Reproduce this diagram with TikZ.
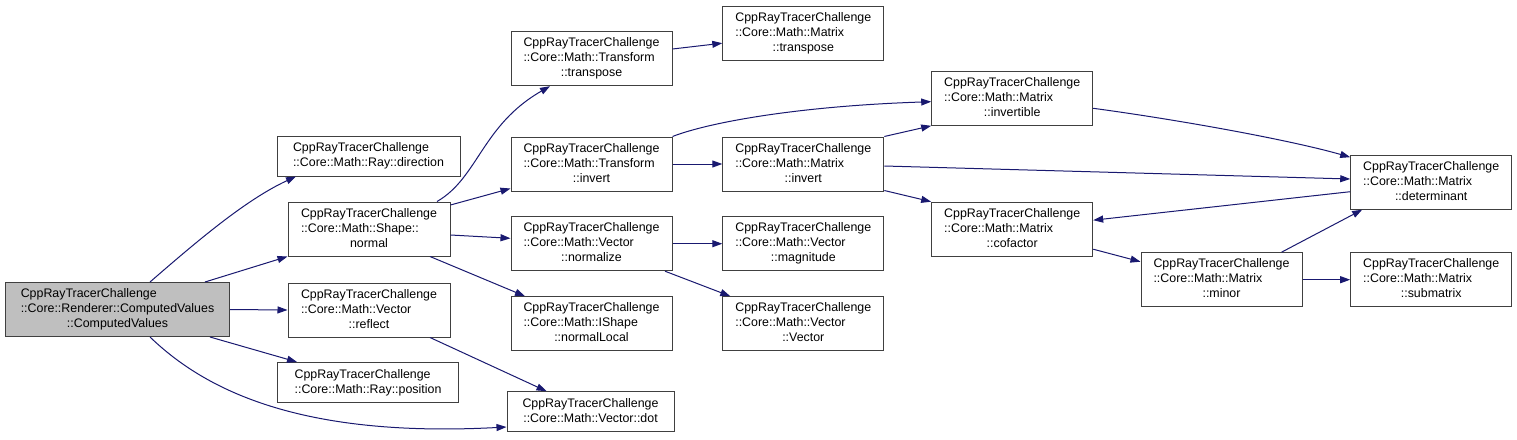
\documentclass[tikz,border=0pt]{standalone}
\usepackage{fontspec}
\setmainfont{Liberation Sans}
\usetikzlibrary{arrows.meta}
\definecolor{edgecol}{HTML}{191970}
\definecolor{boxborder}{HTML}{404040}
\definecolor{rootfill}{HTML}{BFBFBF}
\newcommand{\cbtwo}[2]{\begin{tabular}{@{}l@{}}#1\\\multicolumn{1}{@{}c@{}}{#2}\end{tabular}}
\newcommand{\cbthree}[3]{\begin{tabular}{@{}l@{}}#1\\#2\\\multicolumn{1}{@{}c@{}}{#3}\end{tabular}}
\tikzset{
  fnbox/.style={draw=boxborder, fill=white, line width=1pt, inner sep=0pt,
    minimum width=161pt, minimum height=54pt, font=\fontsize{12.4}{15}\selectfont},
  rootbox/.style={fnbox, fill=rootfill, minimum width=224pt},
  shortbox/.style={fnbox, minimum height=40pt},
  call/.style={draw=edgecol, line width=1pt, -{Triangle[length=10pt,width=7pt]}, edgecol},
}
\begin{document}
\begin{tikzpicture}[x=1pt,y=-1pt]
\fill[white] (0,0) rectangle (1517,439);
\useasboundingbox (0,0) rectangle (1517,439);

\node[rootbox] (cv) at (117.5,309.5) {\cbthree{CppRayTracerChallenge}{::Core::Renderer::ComputedValues}{::ComputedValues}};
\node[shortbox, minimum width=183pt] (dir) at (368.5,156) {\cbtwo{CppRayTracerChallenge}{::Core::Math::Ray::direction}};
\node[fnbox, minimum width=162pt] (normal) at (369,229) {\cbthree{CppRayTracerChallenge}{::Core::Math::Shape::}{normal}};
\node[fnbox, minimum width=162pt] (reflect) at (369,310) {\cbthree{CppRayTracerChallenge}{::Core::Math::Vector}{::reflect}};
\node[shortbox, minimum width=181pt] (pos) at (368,382.5) {\cbtwo{CppRayTracerChallenge}{::Core::Math::Ray::position}};

\node[fnbox] (ttrans) at (591.5,58.7) {\cbthree{CppRayTracerChallenge}{::Core::Math::Transform}{::transpose}};
\node[fnbox] (tinv) at (591.5,164) {\cbthree{CppRayTracerChallenge}{::Core::Math::Transform}{::invert}};
\node[fnbox] (normz) at (591.5,243.7) {\cbthree{CppRayTracerChallenge}{::Core::Math::Vector}{::normalize}};
\node[fnbox] (nloc) at (591.5,323.7) {\cbthree{CppRayTracerChallenge}{::Core::Math::IShape}{::normalLocal}};
\node[shortbox, minimum width=167pt] (dot) at (590.5,411.7) {\cbtwo{CppRayTracerChallenge}{::Core::Math::Vector::dot}};

\node[fnbox] (mtrans) at (803.3,33.2) {\cbthree{CppRayTracerChallenge}{::Core::Math::Matrix}{::transpose}};
\node[fnbox] (minv) at (803.3,164) {\cbthree{CppRayTracerChallenge}{::Core::Math::Matrix}{::invert}};
\node[fnbox] (mag) at (803.3,243.7) {\cbthree{CppRayTracerChallenge}{::Core::Math::Vector}{::magnitude}};
\node[fnbox] (vvec) at (803.3,323.7) {\cbthree{CppRayTracerChallenge}{::Core::Math::Vector}{::Vector}};

\node[fnbox] (invtb) at (1012.2,98.3) {\cbthree{CppRayTracerChallenge}{::Core::Math::Matrix}{::invertible}};
\node[fnbox] (cof) at (1012.2,229.2) {\cbthree{CppRayTracerChallenge}{::Core::Math::Matrix}{::cofactor}};
\node[fnbox] (minor) at (1221.5,279.7) {\cbthree{CppRayTracerChallenge}{::Core::Math::Matrix}{::minor}};
\node[fnbox] (det) at (1431.2,182.2) {\cbthree{CppRayTracerChallenge}{::Core::Math::Matrix}{::determinant}};
\node[fnbox] (sub) at (1431.2,279.7) {\cbthree{CppRayTracerChallenge}{::Core::Math::Matrix}{::submatrix}};

% edges from ComputedValues
\draw[call] ([xshift=32.5pt]cv.north) .. controls (195,243) and (245,200) .. ([xshift=-72.5pt]dir.south);
\draw[call] ([xshift=87.5pt]cv.north) -- (normal.south west);
\draw[call] (cv.east) -- (reflect.west);
\draw[call] ([xshift=92.5pt]cv.south) -- ([xshift=-71pt]pos.north);
\draw[call] ([xshift=32.5pt]cv.south) .. controls (205,390) and (300,438) .. ([yshift=-15.3pt]dot.west);

% edges from Shape::normal
\draw[call] ([xshift=68pt]normal.north) .. controls (478,178) and (482,125) .. ([xshift=-41.5pt]ttrans.south);
\draw[call] ([yshift=-3.5pt]normal.north east) -- ([yshift=3pt]tinv.south west);
\draw[call] ([yshift=-6pt]normal.east) -- ([yshift=5.4pt]normz.west);
\draw[call] ([xshift=61pt]normal.south) -- ([xshift=-66.5pt]nloc.north);

% reflect
\draw[call] ([xshift=61pt]reflect.south) -- ([xshift=-44pt]dot.north);

% Transform
\draw[call] ([yshift=9.7pt]ttrans.east) -- ([yshift=-10pt]mtrans.west);
\draw[call] (tinv.north east) .. controls (710,122) and (800,106) .. ([yshift=-3.4pt]invtb.west);
\draw[call] (tinv.east) -- (minv.west);

% normalize
\draw[call] (normz.east) -- (mag.west);
\draw[call] ([xshift=73.5pt]normz.south) -- ([xshift=-73pt]vvec.north);

% Matrix::invert
\draw[call] (minv.north east) -- (invtb.south west);
\draw[call] ([yshift=-2pt]minv.east) -- ([yshift=3.2pt]det.west);
\draw[call] ([yshift=1pt]minv.south east) -- (cof.north west);

% invertible, determinant, cofactor, minor
\draw[call] ([yshift=-10pt]invtb.east) .. controls (1180,120) and (1290,140) .. ([yshift=-2.5pt]det.north west);
\draw[call] ([yshift=-9.5pt]det.west) -- ([yshift=9pt]cof.east);
\draw[call] ([yshift=-20pt]cof.east) -- ([yshift=18pt]minor.west);
\draw[call] ([xshift=60pt]minor.north) -- ([xshift=-69pt]det.south);
\draw[call] (minor.east) -- (sub.west);
\end{tikzpicture}
\end{document}
